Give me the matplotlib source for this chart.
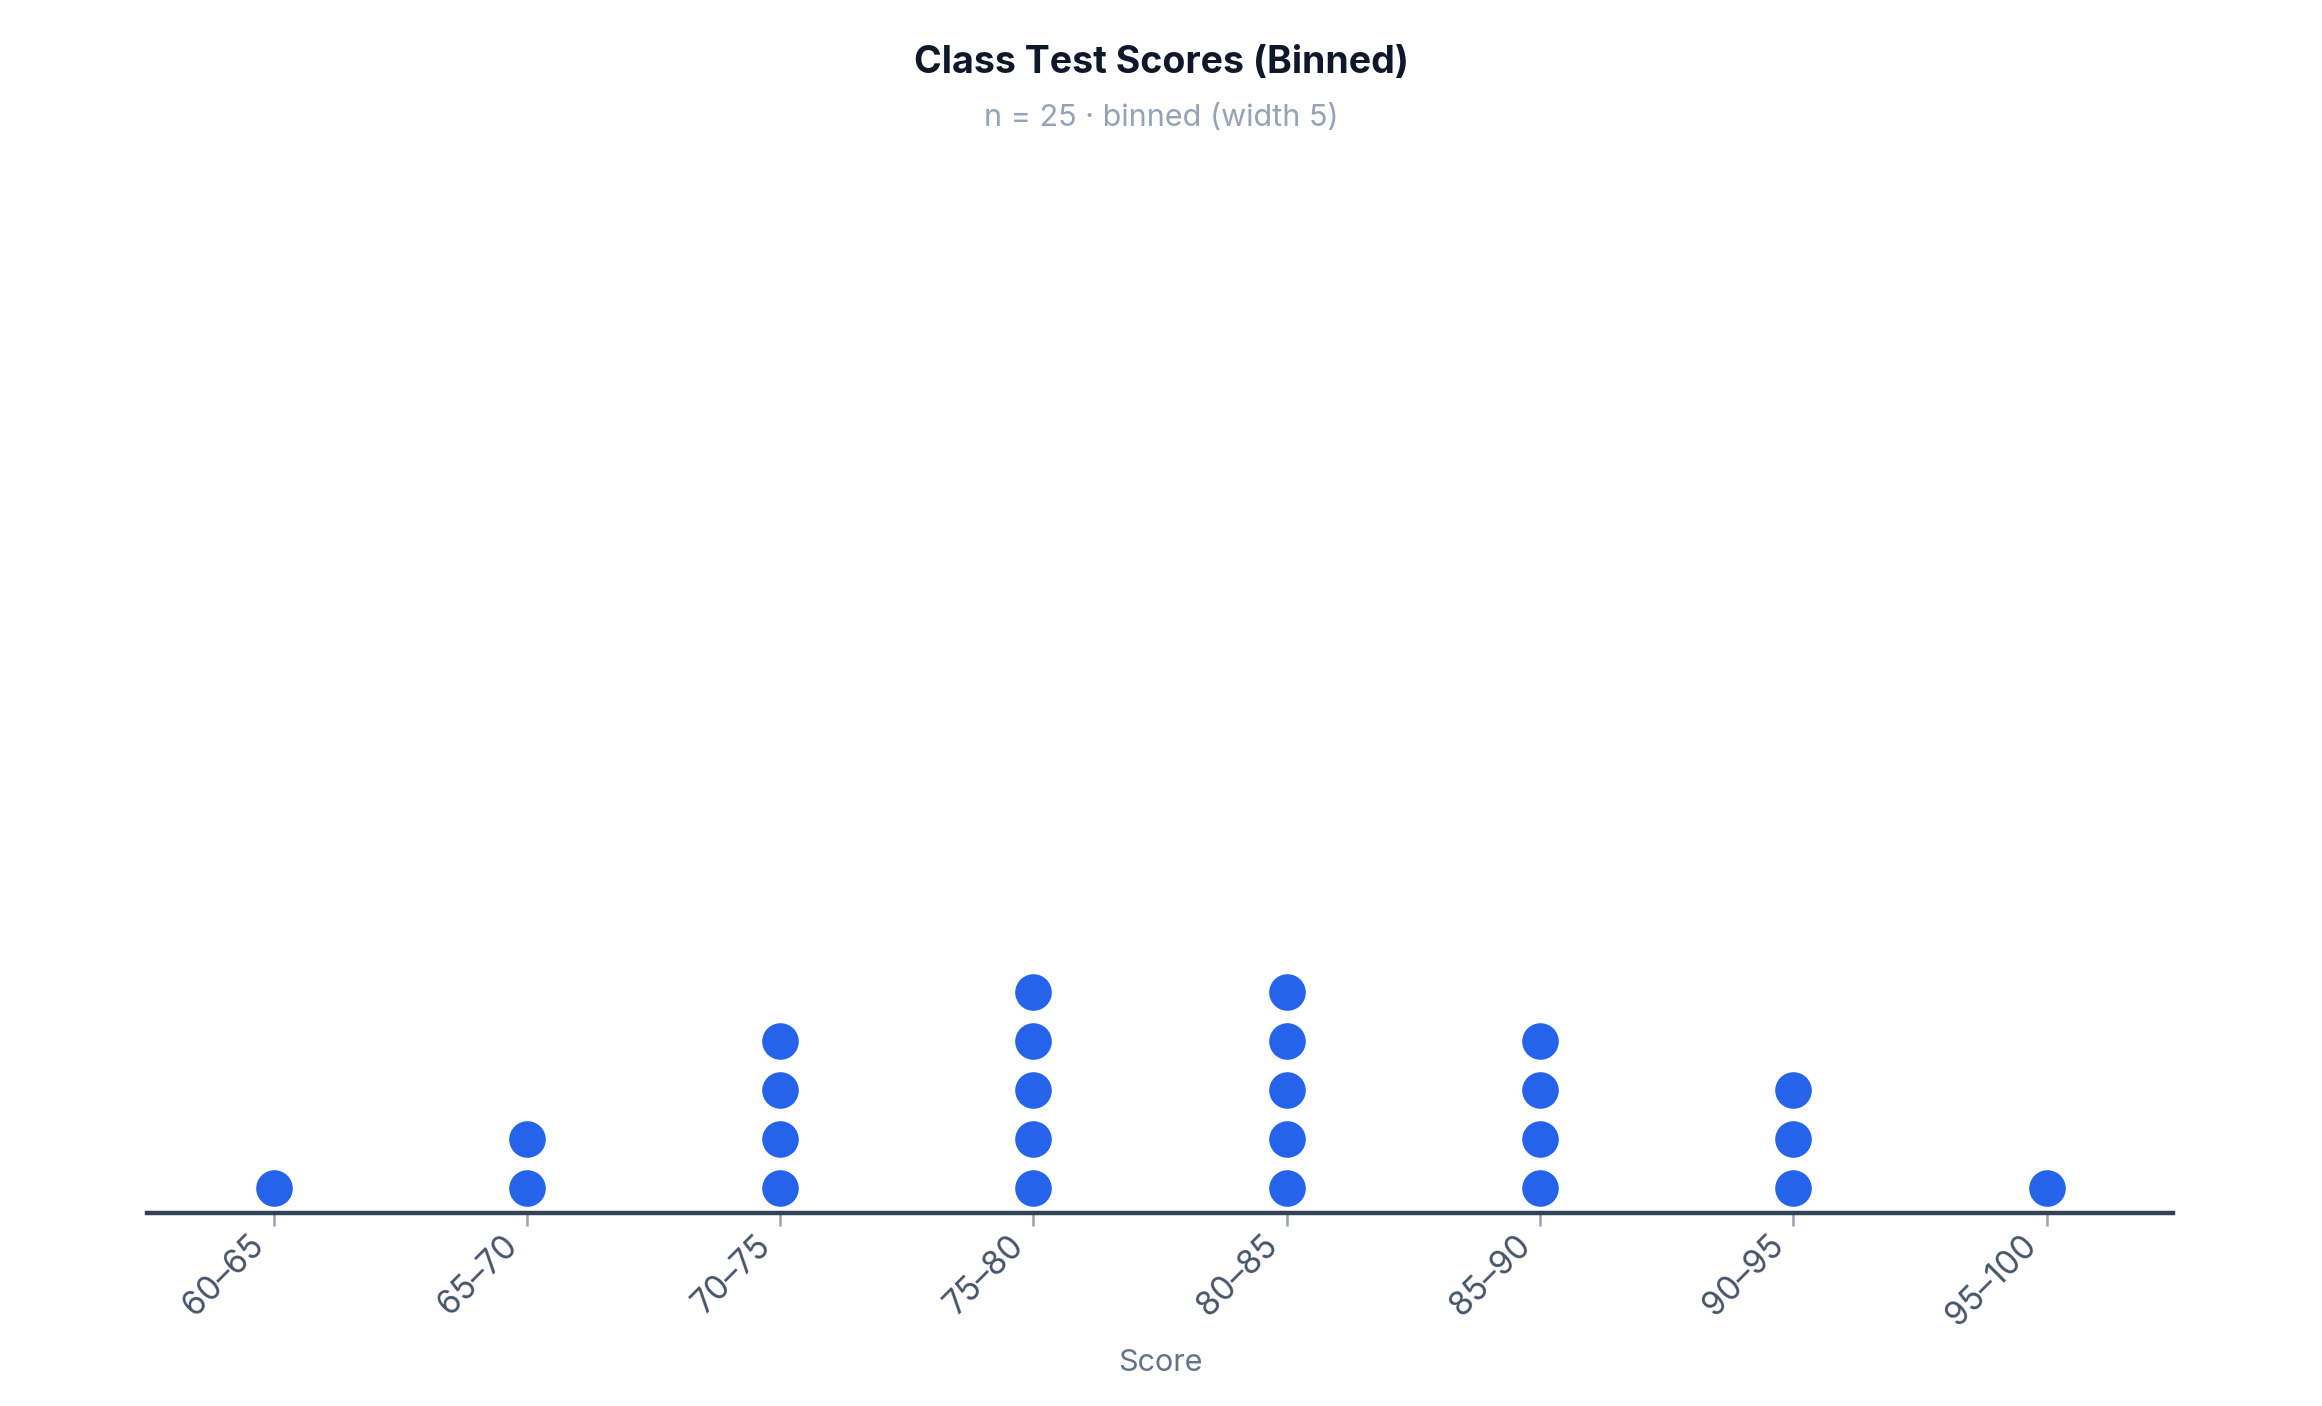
import matplotlib
matplotlib.use("Agg")
import matplotlib.pyplot as plt
from matplotlib.transforms import ScaledTranslation

plt.rcParams['font.family'] = ['Inter', 'DejaVu Sans']

# binned scores
bins = ["60–65", "65–70", "70–75", "75–80", "80–85", "85–90", "90–95", "95–100"]
counts = [1, 2, 4, 5, 5, 4, 3, 1]

title = "Class Test Scores (Binned)"
subtitle = "n = 25 · binned (width 5)"
xlabel = "Score"

fig = plt.figure(figsize=(11.61, 7.03), dpi=200)
ax = fig.add_axes([0.0633, 0.1373, 0.8726, 0.75])

xs = []
ys = []
for i, c in enumerate(counts):
    for k in range(c):
        xs.append(i)
        ys.append(k + 0.5)

ax.scatter(xs, ys, s=190, color="#2563eb", edgecolors="white", linewidths=0.6, zorder=3, clip_on=False)

ax.set_xlim(-0.5, len(bins) - 0.5)
ax.set_ylim(0, 21.5)

for s in ["top", "right", "left"]:
    ax.spines[s].set_visible(False)
ax.spines["bottom"].set_color("#334155")
ax.spines["bottom"].set_linewidth(1.6)
ax.set_yticks([])

ax.set_xticks(range(len(bins)))
ax.set_xticklabels(bins, rotation=45, ha="right", va="baseline", rotation_mode="anchor",
                   fontsize=12, color="#475569")
ax.tick_params(axis="x", length=4.7, width=0.9, color="#94a3b8", pad=7.5)
shift = ScaledTranslation(-0.04, 0, fig.dpi_scale_trans)
for lab in ax.get_xticklabels():
    lab.set_transform(lab.get_transform() + shift)

ax.set_xlabel(xlabel, fontsize=11, color="#64748b", labelpad=6)

fig.text(0.5, 0.955, title, ha="center", va="center", fontsize=13.5, fontweight="bold", color="#0f172a")
fig.text(0.5, 0.916, subtitle, ha="center", va="center", fontsize=11, color="#94a3b8")

fig.savefig("out.png", dpi=200, facecolor="white")
